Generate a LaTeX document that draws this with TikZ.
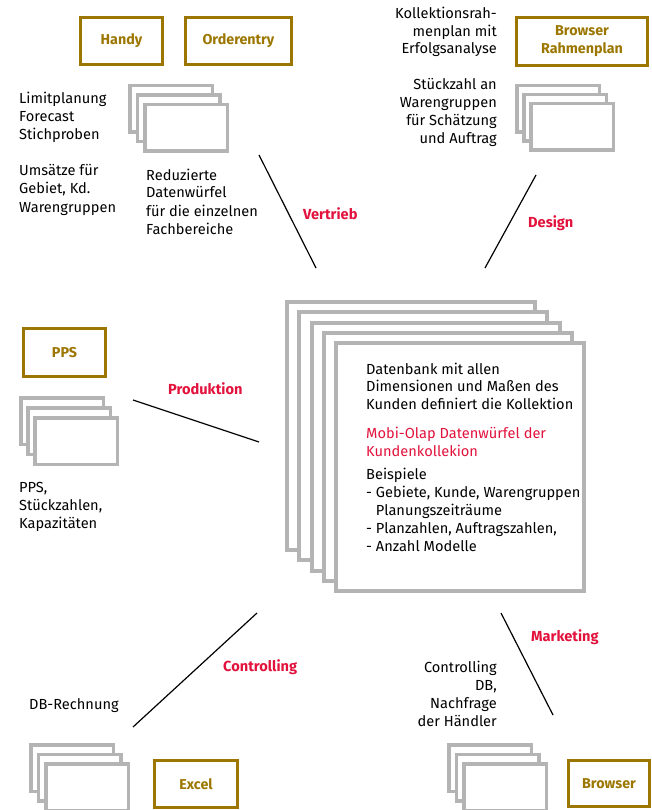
\documentclass[tikz,border=0pt]{standalone}
\usepackage{fontspec}
\setmainfont{Fira Sans}
\definecolor{gold}{RGB}{155,118,0}
\definecolor{accent}{RGB}{226,18,60}
\definecolor{stackgray}{RGB}{180,180,180}
\tikzset{
  goldbox/.style={draw=gold, line width=3.3pt, text=gold, font=\fontsize{14.3}{18}\selectfont\bfseries, align=center, inner sep=0pt},
  sheet/.style={draw=stackgray, line width=3.5pt, fill=white, minimum width=82.5pt, minimum height=46.5pt, inner sep=0pt},
  bigsheet/.style={draw=stackgray, line width=4pt, fill=white, minimum width=248pt, minimum height=248pt, inner sep=0pt},
  txt/.style={font=\fontsize{14.6}{18}\selectfont, inner sep=0pt, align=left, anchor=base west},
  rtxt/.style={font=\fontsize{14.6}{18}\selectfont, inner sep=0pt, align=right, anchor=base east},
  area/.style={text=accent, font=\fontsize{14.6}{18}\selectfont\bfseries, inner sep=0pt, anchor=base west},
  link/.style={draw=black, line width=1.2pt}
}
\begin{document}
\begin{tikzpicture}[x=1pt,y=-1pt]
\useasboundingbox (0,0) rectangle (652,810);

% gold boxes
\node[goldbox, minimum width=81.7pt, minimum height=46.7pt] (handy) at (121.5,41) {Handy};
\node[goldbox, minimum width=105.7pt, minimum height=46.7pt] (order) at (238.5,41) {Orderentry};
\node[goldbox, minimum width=130.7pt, minimum height=47.7pt] (brr) at (582,41.5) {Browser\\Rahmenplan};
\node[goldbox, minimum width=81.7pt, minimum height=47.7pt] (pps) at (64.5,352.5) {PPS};
\node[goldbox, minimum width=82.7pt, minimum height=46.7pt] (excel) at (196,784) {Excel};
\node[goldbox, minimum width=80.7pt, minimum height=45.7pt] (browser) at (609,783.5) {Browser};

% small stacks
\node[sheet] (tl1) at (171,109) {};
\node[sheet] (tl2) at (178.5,118.5) {};
\node[sheet] (tl3) at (186,128) {};

\node[sheet] (tr1) at (558,109) {};
\node[sheet] (tr2) at (565,118) {};
\node[sheet] (tr3) at (572,127) {};

\node[sheet] (ml1) at (62,421) {};
\node[sheet] (ml2) at (69,431) {};
\node[sheet] (ml3) at (76,441) {};

\node[sheet] (bl1) at (72,768) {};
\node[sheet] (bl2) at (79.5,777.5) {};
\node[sheet] (bl3) at (87,787) {};

\node[sheet] (br1) at (490,768) {};
\node[sheet] (br2) at (497.5,777.5) {};
\node[sheet] (br3) at (505,787) {};

% central stack
\node[bigsheet] (c1) at (411,426) {};
\node[bigsheet] (c2) at (423.25,436.25) {};
\node[bigsheet] (c3) at (435.5,446.5) {};
\node[bigsheet] (c4) at (447.75,456.75) {};
\node[bigsheet] (c5) at (460,467) {};

% central texts (anchor = baseline of last line)
\node[txt, font=\fontsize{14.6}{17.5}\selectfont] (cdb) at (366,409) {Datenbank mit allen\\Dimensionen und Maßen des\\Kunden definiert die Kollektion};
\node[txt, text=accent] (cmobi) at (366,456) {Mobi-Olap Datenwürfel der\\Kundenkollekion};
\node[txt] (cbsp) at (366,551) {Beispiele\\- Gebiete, Kunde, Warengruppen\\\phantom{- }Planungszeiträume\\- Planzahlen, Auftragszahlen,\\- Anzahl Modelle};

% side texts
\node[txt] (tlim) at (19,140) {Limitplanung\\Forecast\\Stichproben};
\node[txt] (tums) at (19,212) {Umsätze für\\Gebiet, Kd.\\Warengruppen};
\node[txt] (tred) at (146,234) {Reduzierte\\Datenwürfel\\für die einzelnen\\Fachbereiche};
\node[rtxt, font=\fontsize{14.6}{17.5}\selectfont] (tkol) at (497,54) {Kollektionsrah-\\menplan mit\\Erfolgsanalyse};
\node[rtxt] (tstk) at (497,144) {Stückzahl an\\Warengruppen\\für Schätzung\\und Auftrag};
\node[txt] (tpps) at (19,528) {PPS,\\Stückzahlen,\\Kapazitäten};
\node[txt] (tdb) at (29,709) {DB-Rechnung};
\node[rtxt] (tctl) at (497,726) {Controlling\\DB,\\Nachfrage\\der Händler};

% area labels
\node[area] (lvert) at (303,219) {Vertrieb};
\node[area] (ldes) at (528,228) {Design};
\node[area] (lprod) at (168,394) {Produktion};
\node[area] (lctl) at (223,671) {Controlling};
\node[area] (lmkt) at (531,641) {Marketing};

% connectors
\coordinate (v1) at (259,155); \coordinate (v2) at (316,268);
\coordinate (d1) at (536,175); \coordinate (d2) at (485,268);
\coordinate (p1) at (133,400); \coordinate (p2) at (259,442);
\coordinate (k1) at (257,613); \coordinate (k2) at (133,727);
\coordinate (m1) at (501,613); \coordinate (m2) at (553,715);
\draw[link] (v1) -- (v2);
\draw[link] (d1) -- (d2);
\draw[link] (p1) -- (p2);
\draw[link] (k1) -- (k2);
\draw[link] (m1) -- (m2);
\end{tikzpicture}
\end{document}
